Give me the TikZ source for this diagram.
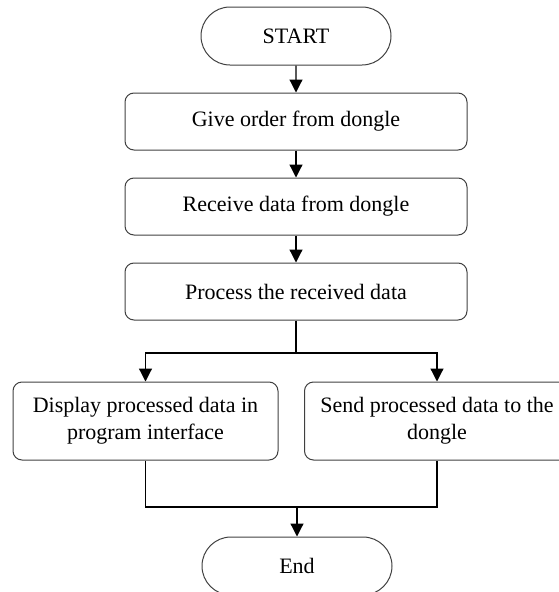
\documentclass[tikz,border=0pt]{standalone}
\usepackage{fontspec}
\setmainfont{Liberation Serif}
\usetikzlibrary{shapes.misc,arrows.meta}
\begin{document}
\begin{tikzpicture}[x=1pt,y=1pt,
  term/.style={rounded rectangle, draw=black!75, line width=1pt, minimum width=190pt, minimum height=58pt, inner sep=0pt, font=\fontsize{22}{27}\selectfont},
  proc/.style={rectangle, rounded corners=9pt, draw=black!75, line width=1pt, minimum width=342pt, minimum height=57pt, inner sep=0pt, align=center, font=\fontsize{22}{27}\selectfont},
  side/.style={proc, minimum width=265pt, minimum height=78pt},
  link/.style={line width=1.2pt},
  arr/.style={link, -{Triangle[length=13pt,width=13pt]}}]
\pgfmathsetmacro{\W}{559}
\pgfmathsetmacro{\H}{592}
\coordinate (TL) at (0,0);
\coordinate (BR) at (\W,-\H);
\useasboundingbox (TL) rectangle (BR);
\clip (TL) rectangle (BR);
\node[term] (start) at (296,-36) {START};
\node[proc] (give) at (296,-121.5) {Give order from dongle};
\node[proc] (recv) at (296,-206.5) {Receive data from dongle};
\node[proc] (process) at (296,-291.5) {Process the received data};
\node[side] (disp) at (145.5,-421) {Display processed data in\\program interface};
\node[side] (send) at (437,-421) {Send processed data to the\\dongle};
\node[term] (end) at (297,-566) {End};
\coordinate (split) at (296,-353);
\coordinate (merge) at (297,-507);
\draw[arr] (start) -- (give);
\draw[arr] (give) -- (recv);
\draw[arr] (recv) -- (process);
\draw[link] (process) -- (split);
\draw[arr] (split) -| (disp.north);
\draw[arr] (split) -| (send.north);
\draw[link] (disp.south) |- (merge) -| (send.south);
\draw[arr] (merge) -- (end);
\end{tikzpicture}
\end{document}
